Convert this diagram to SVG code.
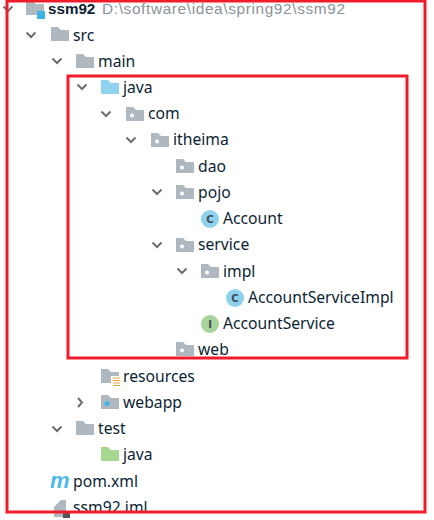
<svg xmlns="http://www.w3.org/2000/svg" width="434" height="520" viewBox="0 0 434 520">
<style>
text{font-family:"Noto Sans","Open Sans","Liberation Sans",sans-serif;font-size:15.7px;fill:#0c1f33}
.chev{fill:none;stroke:#6e6e6e;stroke-width:2}
.red{fill:none;stroke:#f01c2c;stroke-width:3}
.f{fill:#afb8bf}
.d{fill:#fff}
.ic{font-family:"DejaVu Sans","Liberation Sans",sans-serif;font-size:10px;font-weight:bold;text-anchor:middle;fill:#3f4a52}
</style>
<defs>
<path id="folder" d="M0 0H7L10 3H18V14H0Z"/>
<g id="pkg"><use href="#folder" class="f"/><circle cx="6" cy="8.5" r="2" class="d"/></g>
<path id="down" d="M-4.5 -2.5L0 2L4.500 -2.500" class="chev"/>
</defs>
<rect width="434" height="520" fill="#fff"/>

<g id="ssm92"><use href="#down" x="8" y="9"/><use href="#folder" x="26" y="1" class="f"/><rect x="37" y="11" width="8" height="8" fill="#3fb3e6"/><text x="48" y="14" style="font-family:'Liberation Sans',sans-serif;font-weight:700;font-size:15.2px">ssm92</text><text x="102" y="14" textLength="243" lengthAdjust="spacing" style="font-family:'Liberation Sans',sans-serif;fill:#8a929a;font-size:15.4px">D:\software\idea\spring92\ssm92</text></g>
<g id="src"><use href="#down" x="31" y="35"/><use href="#folder" x="51" y="27" class="f"/><text x="73" y="41">src</text></g>
<g id="main"><use href="#down" x="57" y="61"/><use href="#folder" x="76" y="54" class="f"/><text x="98" y="67">main</text></g>
<g id="java"><use href="#down" x="82" y="87"/><use href="#folder" x="101" y="80" fill="#8fd3ee"/><text x="123" y="93">java</text></g>
<g id="com"><use href="#down" x="106" y="114"/><use href="#pkg" x="126" y="107"/><text x="148" y="119">com</text></g>
<g id="itheima"><use href="#down" x="131" y="140"/><use href="#pkg" x="151" y="133"/><text x="173" y="145">itheima</text></g>
<g id="dao"><use href="#pkg" x="176" y="159"/><text x="198" y="172">dao</text></g>
<g id="pojo"><use href="#down" x="157" y="192"/><use href="#pkg" x="176" y="185"/><text x="198" y="198">pojo</text></g>
<g id="account"><circle cx="210" cy="219" r="9" fill="#8dd1ec"/><text class="ic" x="210" y="222.500">C</text><text x="223" y="224">Account</text></g>
<g id="service"><use href="#down" x="157" y="245"/><use href="#pkg" x="176" y="238"/><text x="198" y="250">service</text></g>
<g id="impl"><use href="#down" x="182" y="271"/><use href="#pkg" x="201" y="264"/><text x="223" y="277">impl</text></g>
<g id="accountServiceImpl"><circle cx="235" cy="298" r="9" fill="#8dd1ec"/><text class="ic" x="235" y="301.500">C</text><text x="248" y="303">AccountServiceImpl</text></g>
<g id="accountService"><circle cx="210" cy="324" r="9" fill="#a6d49a"/><text class="ic" x="210" y="327.500">I</text><text x="223" y="329">AccountService</text></g>
<g id="web"><use href="#pkg" x="176" y="342"/><text x="198" y="355">web</text></g>
<g id="resources"><use href="#folder" x="101" y="369" class="f"/><rect x="111" y="376" width="10" height="10" fill="#fff"/><path d="M113 378H120M113 380.500H120M113 383H120M113 385.500H120" stroke="#e2a54a" stroke-width="1.200"/><text x="123" y="382">resources</text></g>
<g id="webapp"><path d="M78 398L82 402.500L78 407" class="chev"/><use href="#folder" x="101" y="395" class="f"/><circle cx="107" cy="403.500" r="2.500" fill="#3fb3e6"/><text x="123" y="408">webapp</text></g>
<g id="test"><use href="#down" x="57" y="429"/><use href="#folder" x="76" y="421" class="f"/><text x="98" y="434">test</text></g>
<g id="java-test"><use href="#folder" x="101" y="447" fill="#a6d68f"/><text x="123" y="460">java</text></g>
<g id="pom"><text x="50" y="488" style="font-family:'Liberation Sans',sans-serif;font-size:22px;font-style:italic;font-weight:700;fill:#4cb9e6">m</text><text x="73" y="487">pom.xml</text></g>
<g id="iml"><path d="M54 507L61 500H66V517H54Z" fill="#afb8bf"/><rect x="63" y="513" width="7" height="5" fill="#555"/><text x="73" y="513">ssm92.iml</text></g>

<rect class="red" x="7" y="1" width="418" height="511"/>
<rect class="red" x="68" y="76" width="339" height="282"/>
</svg>
